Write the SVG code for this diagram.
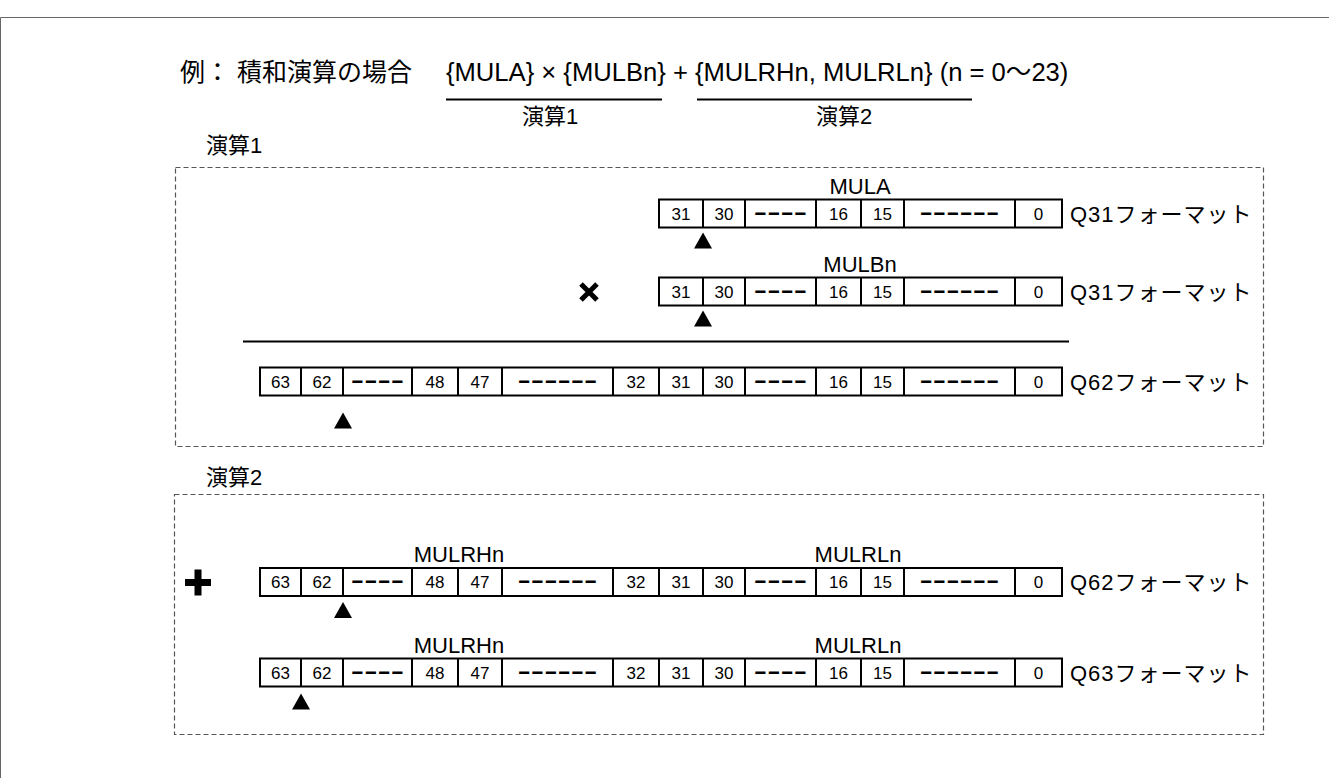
<svg xmlns="http://www.w3.org/2000/svg" width="1329" height="778" viewBox="0 0 1329 778">
<style>
text{font-family:"Liberation Sans","Noto Sans CJK JP",sans-serif;fill:#000}
.t{font-size:25px}
.f{font-size:25.6px}
.l{font-size:22px}
.q{font-size:22px;letter-spacing:1px}
.c{font-size:22px;text-anchor:middle}
.n{font-size:17px;text-anchor:middle}
.d{font-size:20px;font-weight:bold;text-anchor:middle}
.box{fill:none;stroke:#555;stroke-width:1.2;stroke-dasharray:5 3}
.cell{fill:#fff;stroke:#000;stroke-width:2}
.div{fill:none;stroke:#000;stroke-width:2}
.rule{fill:none;stroke:#000;stroke-width:2}
.frame{fill:none;stroke:#666;stroke-width:1}
.tri{fill:#000}
</style>
<path class="frame" d="M0.5,778 V17.5 H1329"/>
<g id="title">
<text class="t" x="180" y="81">例： 積和演算の場合</text>
<text class="f" x="446" y="81">{MULA} × {MULBn} + {MULRHn, MULRLn} (n = 0〜23)</text>
<text class="c" x="550" y="124">演算1</text>
<text class="c" x="844" y="124">演算2</text>
</g>
<g id="connectors">
<path class="rule" d="M446,99.5 H662 M697,99.5 H972"/>
<path class="rule" d="M243,341.5 H1069"/>
</g>
<g id="op1">
<text class="l" x="206" y="153">演算1</text>
<rect class="box" x="175.5" y="167.5" width="1088" height="279"/>
<g id="mula" transform="translate(0,199.5)">
<text class="c" x="860" y="-6">MULA</text>
<rect class="cell" x="659" y="0" width="403" height="28"/>
<path class="div" d="M703,0v28M745,0v28M816,0v28M861,0v28M904,0v28M1015,0v28"/>
<text class="n" x="681" y="20">31</text><text class="n" x="724" y="20">30</text>
<text class="d" transform="scale(2,1)" x="390.25" y="19.5">----</text>
<text class="n" x="838.5" y="20">16</text><text class="n" x="882.5" y="20">15</text>
<text class="d" transform="scale(2,1)" x="479.75" y="19.5">------</text>
<text class="n" x="1038.5" y="20">0</text>
<text class="q" x="1070" y="22">Q31フォーマット</text>
<polygon class="tri" points="703,33 694,49 712,49"/>
</g>
<g id="mulb" transform="translate(0,277.5)">
<text class="c" x="860" y="-6">MULBn</text>
<rect class="cell" x="659" y="0" width="403" height="28"/>
<path class="div" d="M703,0v28M745,0v28M816,0v28M861,0v28M904,0v28M1015,0v28"/>
<text class="n" x="681" y="20">31</text><text class="n" x="724" y="20">30</text>
<text class="d" transform="scale(2,1)" x="390.25" y="19.5">----</text>
<text class="n" x="838.5" y="20">16</text><text class="n" x="882.5" y="20">15</text>
<text class="d" transform="scale(2,1)" x="479.75" y="19.5">------</text>
<text class="n" x="1038.5" y="20">0</text>
<text class="q" x="1070" y="22">Q31フォーマット</text>
<polygon class="tri" points="703,33 694,49 712,49"/>
</g>
<g id="times">
<path d="M581,284 L597,300 M597,284 L581,300" stroke="#000" stroke-width="5" fill="none"/>
</g>
<g id="q62a" transform="translate(0,367.5)">
<rect class="cell" x="260" y="0" width="802" height="28"/>
<path class="div" d="M301,0v28M343,0v28M412,0v28M458,0v28M502,0v28M613,0v28M659,0v28M703,0v28M745,0v28M816,0v28M861,0v28M904,0v28M1015,0v28"/>
<text class="n" x="280.5" y="20">63</text><text class="n" x="322" y="20">62</text>
<text class="d" transform="scale(2,1)" x="188.75" y="19.5">----</text>
<text class="n" x="435" y="20">48</text><text class="n" x="480" y="20">47</text>
<text class="d" transform="scale(2,1)" x="278.75" y="19.5">------</text>
<text class="n" x="636" y="20">32</text><text class="n" x="681" y="20">31</text><text class="n" x="724" y="20">30</text>
<text class="d" transform="scale(2,1)" x="390.25" y="19.5">----</text>
<text class="n" x="838.5" y="20">16</text><text class="n" x="882.5" y="20">15</text>
<text class="d" transform="scale(2,1)" x="479.75" y="19.5">------</text>
<text class="n" x="1038.5" y="20">0</text>
<text class="q" x="1070" y="22">Q62フォーマット</text>
<polygon class="tri" points="343,45 334,61 352,61"/>
</g>
</g>
<g id="op2">
<text class="l" x="206" y="485">演算2</text>
<rect class="box" x="174.5" y="494.5" width="1089" height="240"/>
<g id="plus">
<rect x="185" y="579" width="26" height="7" fill="#000"/>
<rect x="194.5" y="569.5" width="7" height="26" fill="#000"/>
</g>
<g id="q62b" transform="translate(0,568)">
<text class="c" x="459" y="-6">MULRHn</text>
<text class="c" x="858" y="-6">MULRLn</text>
<rect class="cell" x="260" y="0" width="802" height="28"/>
<path class="div" d="M301,0v28M343,0v28M412,0v28M458,0v28M502,0v28M613,0v28M659,0v28M703,0v28M745,0v28M816,0v28M861,0v28M904,0v28M1015,0v28"/>
<text class="n" x="280.5" y="20">63</text><text class="n" x="322" y="20">62</text>
<text class="d" transform="scale(2,1)" x="188.75" y="19.5">----</text>
<text class="n" x="435" y="20">48</text><text class="n" x="480" y="20">47</text>
<text class="d" transform="scale(2,1)" x="278.75" y="19.5">------</text>
<text class="n" x="636" y="20">32</text><text class="n" x="681" y="20">31</text><text class="n" x="724" y="20">30</text>
<text class="d" transform="scale(2,1)" x="390.25" y="19.5">----</text>
<text class="n" x="838.5" y="20">16</text><text class="n" x="882.5" y="20">15</text>
<text class="d" transform="scale(2,1)" x="479.75" y="19.5">------</text>
<text class="n" x="1038.5" y="20">0</text>
<text class="q" x="1070" y="22">Q62フォーマット</text>
<polygon class="tri" points="343,34 334,50 352,50"/>
</g>
<g id="q63" transform="translate(0,658.5)">
<text class="c" x="459" y="-6">MULRHn</text>
<text class="c" x="858" y="-6">MULRLn</text>
<rect class="cell" x="260" y="0" width="802" height="28"/>
<path class="div" d="M301,0v28M343,0v28M412,0v28M458,0v28M502,0v28M613,0v28M659,0v28M703,0v28M745,0v28M816,0v28M861,0v28M904,0v28M1015,0v28"/>
<text class="n" x="280.5" y="20">63</text><text class="n" x="322" y="20">62</text>
<text class="d" transform="scale(2,1)" x="188.75" y="19.5">----</text>
<text class="n" x="435" y="20">48</text><text class="n" x="480" y="20">47</text>
<text class="d" transform="scale(2,1)" x="278.75" y="19.5">------</text>
<text class="n" x="636" y="20">32</text><text class="n" x="681" y="20">31</text><text class="n" x="724" y="20">30</text>
<text class="d" transform="scale(2,1)" x="390.25" y="19.5">----</text>
<text class="n" x="838.5" y="20">16</text><text class="n" x="882.5" y="20">15</text>
<text class="d" transform="scale(2,1)" x="479.75" y="19.5">------</text>
<text class="n" x="1038.5" y="20">0</text>
<text class="q" x="1070" y="22">Q63フォーマット</text>
<polygon class="tri" points="301,35 292,51 310,51"/>
</g>
</g>
</svg>
